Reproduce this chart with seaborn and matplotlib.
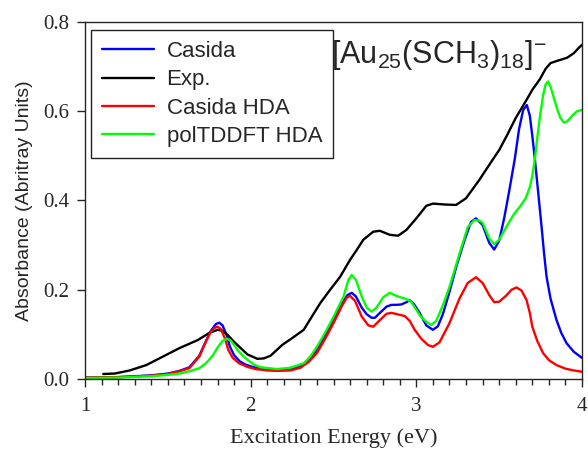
import pandas as pd
import matplotlib
matplotlib.use("Agg")
import matplotlib.pyplot as plt
from matplotlib.ticker import MultipleLocator
import seaborn as sns

# experimental spectrum
exp_x = [1.11, 1.18, 1.27, 1.37, 1.47, 1.57, 1.68, 1.75, 1.80, 1.83, 1.86, 1.90, 1.94, 1.98,
         2.04, 2.08, 2.12, 2.19, 2.26, 2.32, 2.37, 2.42, 2.48, 2.54, 2.60, 2.64, 2.68, 2.74,
         2.78, 2.84, 2.89, 2.94, 3.00, 3.06, 3.10, 3.17, 3.24, 3.30, 3.38, 3.46, 3.50, 3.55,
         3.60, 3.655, 3.70, 3.746, 3.78, 3.81, 3.85, 3.91, 3.95, 3.98, 4.00]
exp_y = [0.011, 0.012, 0.019, 0.031, 0.050, 0.069, 0.087, 0.103, 0.110, 0.108, 0.099, 0.083,
         0.069, 0.055, 0.045, 0.046, 0.052, 0.076, 0.094, 0.110, 0.140, 0.170, 0.200, 0.229,
         0.267, 0.289, 0.312, 0.330, 0.332, 0.323, 0.321, 0.334, 0.360, 0.388, 0.393, 0.391,
         0.390, 0.405, 0.446, 0.491, 0.513, 0.548, 0.585, 0.619, 0.648, 0.672, 0.695, 0.708,
         0.713, 0.720, 0.730, 0.742, 0.749]

# Casida
cas_x = [1.00, 1.20, 1.40, 1.50, 1.57, 1.63, 1.69, 1.73, 1.76, 1.79, 1.81, 1.83, 1.855, 1.875,
         1.90, 1.935, 1.97, 2.01, 2.08, 2.16, 2.24, 2.30, 2.35, 2.40, 2.45, 2.50, 2.55, 2.585,
         2.61, 2.635, 2.67, 2.70, 2.73, 2.75, 2.78, 2.82, 2.85, 2.88, 2.91, 2.94, 2.96, 2.985,
         3.02, 3.06, 3.10, 3.13, 3.16, 3.20, 3.24, 3.29, 3.33, 3.36, 3.40, 3.44, 3.47, 3.50,
         3.53, 3.56, 3.595, 3.62, 3.645, 3.667, 3.685, 3.70, 3.716, 3.735, 3.756, 3.77, 3.786,
         3.81, 3.846, 3.875, 3.907, 3.95, 4.00]
cas_y = [0.003, 0.004, 0.008, 0.012, 0.018, 0.026, 0.052, 0.085, 0.108, 0.123, 0.126, 0.120,
         0.098, 0.072, 0.053, 0.039, 0.032, 0.027, 0.021, 0.019, 0.021, 0.027, 0.040, 0.065,
         0.097, 0.132, 0.170, 0.188, 0.193, 0.185, 0.160, 0.145, 0.137, 0.137, 0.148, 0.162,
         0.166, 0.166, 0.167, 0.172, 0.176, 0.168, 0.148, 0.120, 0.110, 0.118, 0.145, 0.195,
         0.250, 0.310, 0.352, 0.360, 0.345, 0.305, 0.290, 0.310, 0.360, 0.420, 0.495, 0.560,
         0.603, 0.614, 0.590, 0.545, 0.491, 0.420, 0.341, 0.285, 0.229, 0.180, 0.132, 0.103,
         0.080, 0.061, 0.047]

# Casida HDA
hda_x = [1.00, 1.20, 1.40, 1.50, 1.57, 1.63, 1.69, 1.725, 1.755, 1.78, 1.80, 1.82, 1.845,
         1.865, 1.89, 1.93, 1.98, 2.03, 2.10, 2.16, 2.24, 2.30, 2.35, 2.40, 2.45, 2.50, 2.55,
         2.58, 2.60, 2.63, 2.67, 2.71, 2.74, 2.78, 2.82, 2.85, 2.93, 2.96, 2.99, 3.03, 3.07,
         3.10, 3.14, 3.20, 3.26, 3.31, 3.36, 3.40, 3.44, 3.47, 3.50, 3.54, 3.575, 3.605, 3.635,
         3.665, 3.685, 3.70, 3.73, 3.765, 3.80, 3.846, 3.90, 3.95, 4.00]
hda_y = [0.003, 0.004, 0.007, 0.011, 0.017, 0.024, 0.050, 0.080, 0.103, 0.114, 0.117, 0.112,
         0.090, 0.065, 0.048, 0.035, 0.027, 0.022, 0.019, 0.018, 0.019, 0.025, 0.038, 0.058,
         0.090, 0.125, 0.163, 0.182, 0.186, 0.175, 0.140, 0.120, 0.117, 0.132, 0.146, 0.148,
         0.141, 0.130, 0.110, 0.090, 0.076, 0.072, 0.082, 0.125, 0.180, 0.215, 0.228, 0.215,
         0.188, 0.172, 0.173, 0.186, 0.200, 0.205, 0.198, 0.177, 0.148, 0.117, 0.085, 0.058,
         0.042, 0.031, 0.023, 0.019, 0.016]

# polTDDFT HDA
pol_x = [1.00, 1.20, 1.40, 1.50, 1.57, 1.63, 1.69, 1.73, 1.77, 1.80, 1.83, 1.855, 1.88, 1.90,
         1.92, 1.95, 1.98, 2.02, 2.06, 2.16, 2.24, 2.32, 2.36, 2.40, 2.45, 2.50, 2.56, 2.59,
         2.61, 2.635, 2.67, 2.70, 2.73, 2.76, 2.80, 2.84, 2.88, 2.94, 2.97, 3.00, 3.02, 3.06,
         3.09, 3.12, 3.16, 3.20, 3.26, 3.31, 3.35, 3.38, 3.40, 3.44, 3.47, 3.50, 3.55, 3.59,
         3.625, 3.66, 3.686, 3.70, 3.716, 3.73, 3.746, 3.765, 3.78, 3.795, 3.81, 3.83, 3.85,
         3.87, 3.89, 3.91, 3.94, 3.97, 4.00]
pol_y = [0.002, 0.003, 0.006, 0.009, 0.012, 0.017, 0.024, 0.035, 0.052, 0.070, 0.085, 0.090,
         0.086, 0.076, 0.065, 0.053, 0.043, 0.032, 0.026, 0.022, 0.025, 0.035, 0.050, 0.072,
         0.104, 0.139, 0.184, 0.222, 0.233, 0.222, 0.185, 0.160, 0.151, 0.160, 0.183, 0.193,
         0.186, 0.179, 0.172, 0.155, 0.143, 0.128, 0.121, 0.130, 0.165, 0.206, 0.280, 0.340,
         0.356, 0.355, 0.350, 0.315, 0.302, 0.312, 0.345, 0.370, 0.386, 0.405, 0.431, 0.455,
         0.495, 0.540, 0.588, 0.635, 0.660, 0.667, 0.655, 0.630, 0.605, 0.585, 0.575, 0.577,
         0.590, 0.600, 0.603]

series = [
    ("Casida", cas_x, cas_y, "#0000ff"),
    ("Exp.", exp_x, exp_y, "#000000"),
    ("Casida HDA", hda_x, hda_y, "#ff0000"),
    ("polTDDFT HDA", pol_x, pol_y, "#00ff00"),
]

sns.set_style("ticks")
plt.rcParams["font.family"] = ["Liberation Sans", "DejaVu Sans"]
plt.rcParams["mathtext.fontset"] = "custom"
plt.rcParams["mathtext.rm"] = "Liberation Sans"

fig = plt.figure(figsize=(5.88, 4.5), dpi=100)
ax = fig.add_axes([0.1446, 0.158, 0.8452, 0.793])

for name, xs, ys, col in series:
    df = pd.DataFrame({"energy": xs, "absorbance": ys})
    sns.lineplot(data=df, x="energy", y="absorbance", color=col, lw=1.7,
                 label=name, sort=False, estimator=None, ax=ax)

ax.set_xlim(1, 4)
ax.set_ylim(0, 0.8)
ax.xaxis.set_major_locator(MultipleLocator(1))
ax.xaxis.set_minor_locator(MultipleLocator(0.1))
ax.yaxis.set_major_locator(MultipleLocator(0.2))
ax.xaxis.set_major_formatter("{x:.0f}")
ax.yaxis.set_major_formatter("{x:.1f}")
ax.tick_params(which="both", bottom=True, left=True, direction="out", width=1)
ax.tick_params(axis="x", which="major", length=6, pad=7, labelsize=15)
ax.tick_params(axis="x", which="minor", length=4)
ax.tick_params(axis="y", which="major", length=6, pad=5, labelsize=15)
for lbl in ax.get_xticklabels() + ax.get_yticklabels():
    lbl.set_family("Liberation Serif")
for s in ax.spines.values():
    s.set_linewidth(1.0)

ax.set_xlabel("Excitation Energy (eV)", family="Liberation Serif", fontsize=16, labelpad=9)
ax.set_ylabel("Absorbance (Abritray Units)", fontsize=14, labelpad=8)

ax.text(0.495, 0.955, r"$\mathregular{[Au_{25}(SCH_3)_{18}]^{-}}$", transform=ax.transAxes,
        fontsize=22, ha="left", va="top")

leg = ax.legend(loc="upper left", bbox_to_anchor=(0.012, 0.978), fontsize=16,
                frameon=True, fancybox=False, edgecolor="#222222", framealpha=1,
                handlelength=2.35, handletextpad=0.55, labelspacing=0.33, borderpad=0.5,
                borderaxespad=0)
leg.get_frame().set_linewidth(1.0)

fig.savefig("out.png", dpi=100)

# the tick marks sometimes do not come out; check under the x=2 tick and redraw by hand
img = plt.imread("out.png")
tx, ty = ax.transData.transform((2, 0))
row = int(round(img.shape[0] - ty))
col = int(round(tx))
if img[row + 2:row + 6, col - 1:col + 2, :3].min() > 0.6:
    h_px = ax.bbox.height
    w_px = ax.bbox.width
    xmaj = [v for v in ax.xaxis.get_majorticklocs() if 1 <= v <= 4]
    xmin = [v for v in ax.xaxis.get_minorticklocs() if 1 <= v <= 4]
    ymaj = [v for v in ax.yaxis.get_majorticklocs() if 0 <= v <= 0.8]
    tick_col = "#262626"
    ax.vlines(xmaj, 0, -6 / h_px, transform=ax.get_xaxis_transform(), colors=tick_col,
              lw=1, clip_on=False)
    ax.vlines(xmin, 0, -4 / h_px, transform=ax.get_xaxis_transform(), colors=tick_col,
              lw=1, clip_on=False)
    ax.hlines(ymaj, -6 / w_px, 0, transform=ax.get_yaxis_transform(), colors=tick_col,
              lw=1, clip_on=False)
    fig.savefig("out.png", dpi=100)
